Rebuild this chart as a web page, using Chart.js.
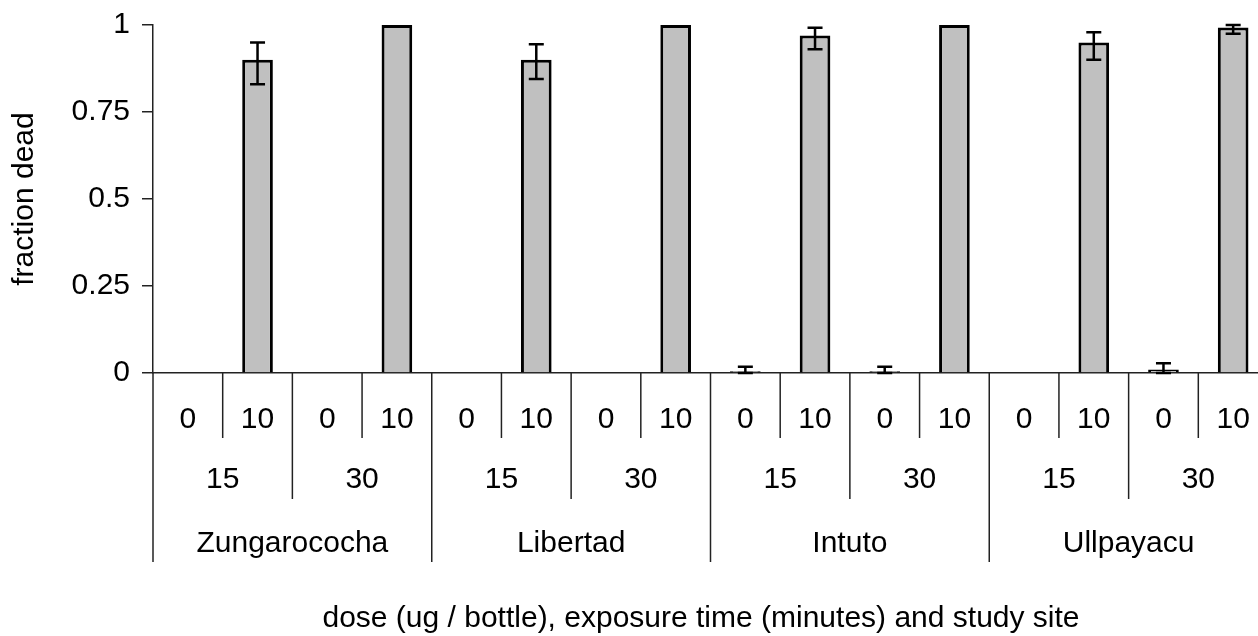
<!DOCTYPE html>
<html><head><meta charset="utf-8">
<script src="https://cdn.jsdelivr.net/npm/chart.js@4.4.1/dist/chart.umd.min.js"></script>
<style>
html,body{margin:0;padding:0;background:#fff;overflow:hidden;width:1258px;height:636px}
#wrap{width:1268px;height:636px}
</style>
</head><body><div id="wrap"><canvas id="c" width="1268" height="636"></canvas></div>
<script>
// ---- data ----
const doseLabels = ['0','10','0','10','0','10','0','10','0','10','0','10','0','10','0','10'];
const timeLabels = ['15','30','15','30','15','30','15','30'];
const siteLabels = ['Zungarococha','Libertad','Intuto','Ullpayacu'];
const fractionDead = [0, 0.90, 0, 1.00, 0, 0.90, 0, 1.00, 0.005, 0.97, 0.005, 1.00, 0, 0.95, 0.01, 0.993];
const errHigh = [null, 0.95, null, null, null, 0.945, null, null, 0.018, 0.992, 0.018, null, null, 0.979, 0.028, 1.00];
const errLow  = [null, 0.83, null, null, null, 0.845, null, null, 0.0, 0.93, 0.0, null, null, 0.90, 0.0, 0.975];
const yTickValues = [0, 0.25, 0.5, 0.75, 1];
const yTickLabels = ['0', '0.25', '0.5', '0.75', '1'];
const xTitle = 'dose (ug / bottle), exposure time (minutes) and study site';
const yTitle = 'fraction dead';

const FONT = '"Liberation Sans", Arial, sans-serif';
const FS = 30;
Chart.defaults.font.family = FONT;
Chart.defaults.font.size = FS;
Chart.defaults.color = '#000';

const errorBars = {
  id: 'errorBars',
  afterDatasetsDraw(chart) {
    const ctx = chart.ctx, ys = chart.scales.y, meta = chart.getDatasetMeta(0);
    ctx.save();
    ctx.strokeStyle = '#000';
    ctx.lineWidth = 2.5;
    meta.data.forEach((bar, i) => {
      if (errHigh[i] == null) return;
      const x = bar.x;
      const yH = ys.getPixelForValue(errHigh[i]);
      const yL = ys.getPixelForValue(errLow[i]);
      ctx.beginPath();
      ctx.moveTo(x, yH); ctx.lineTo(x, yL);
      ctx.moveTo(x - 7.5, yH); ctx.lineTo(x + 7.5, yH);
      ctx.moveTo(x - 7.5, yL); ctx.lineTo(x + 7.5, yL);
      ctx.stroke();
    });
    ctx.restore();
  }
};

const groupAxis = {
  id: 'groupAxis',
  afterDraw(chart) {
    const ctx = chart.ctx, xs = chart.scales.x, y0 = chart.chartArea.bottom;
    const n = doseLabels.length;
    const w = xs.width / n;
    const timeSpan = n / timeLabels.length;
    const siteSpan = n / siteLabels.length;
    const edge = i => xs.getPixelForValue(i) - w / 2;
    ctx.save();
    ctx.strokeStyle = '#222';
    ctx.lineWidth = 1.5;
    for (let i = 0; i <= n; i++) {
      let len;
      if (i % siteSpan === 0) len = 189;
      else if (i % timeSpan === 0) len = 126;
      else len = 65;
      const x = i < n ? edge(i) : xs.getPixelForValue(n - 1) + w / 2;
      ctx.beginPath();
      ctx.moveTo(x, y0); ctx.lineTo(x, y0 + len);
      ctx.stroke();
    }
    ctx.fillStyle = '#000';
    ctx.font = FS + 'px ' + FONT;
    ctx.textAlign = 'center';
    ctx.textBaseline = 'alphabetic';
    doseLabels.forEach((t, i) => ctx.fillText(t, xs.getPixelForValue(i), y0 + 55));
    timeLabels.forEach((t, j) => {
      const c = (xs.getPixelForValue(j * timeSpan) + xs.getPixelForValue(j * timeSpan + timeSpan - 1)) / 2;
      ctx.fillText(t, c, y0 + 115);
    });
    siteLabels.forEach((t, j) => {
      const c = (xs.getPixelForValue(j * siteSpan) + xs.getPixelForValue(j * siteSpan + siteSpan - 1)) / 2;
      ctx.fillText(t, c, y0 + 179);
    });
    ctx.fillText(xTitle, 701, y0 + 254);
    ctx.restore();
  }
};

new Chart(document.getElementById('c'), {
  type: 'bar',
  data: {
    labels: doseLabels.map((d, i) => siteLabels[Math.floor(i / 4)] + ' ' + timeLabels[Math.floor(i / 2)] + ' ' + d),
    datasets: [{
      data: fractionDead,
      backgroundColor: '#c0c0c0',
      borderColor: '#000',
      borderWidth: 3,
      categoryPercentage: 1,
      barPercentage: 0.44
    }]
  },
  options: {
    responsive: false,
    animation: false,
    events: [],
    layout: { padding: { top: 25, right: 0, bottom: 0, left: 0 } },
    plugins: { legend: { display: false }, tooltip: { enabled: false } },
    scales: {
      x: {
        offset: true,
        grid: { display: false, drawTicks: false },
        border: { display: true, color: '#222', width: 1.5 },
        ticks: { display: false },
        afterFit(scale) { scale.height = 263; }
      },
      y: {
        min: 0, max: 1,
        afterBuildTicks(scale) { scale.ticks = yTickValues.map(v => ({ value: v })); },
        ticks: {
          padding: 12,
          callback: (v) => yTickLabels[yTickValues.indexOf(v)]
        },
        grid: { drawOnChartArea: false, drawTicks: true, tickLength: 11, color: '#222', lineWidth: 1.5 },
        border: { display: true, color: '#222', width: 1.5 },
        title: { display: true, text: yTitle, padding: { top: 6.5, bottom: 0 } },
        afterFit(scale) { scale.width = 153; scale.paddingTop = 0; scale.paddingBottom = 0; }
      }
    }
  },
  plugins: [errorBars, groupAxis]
});
</script>
</body></html>
